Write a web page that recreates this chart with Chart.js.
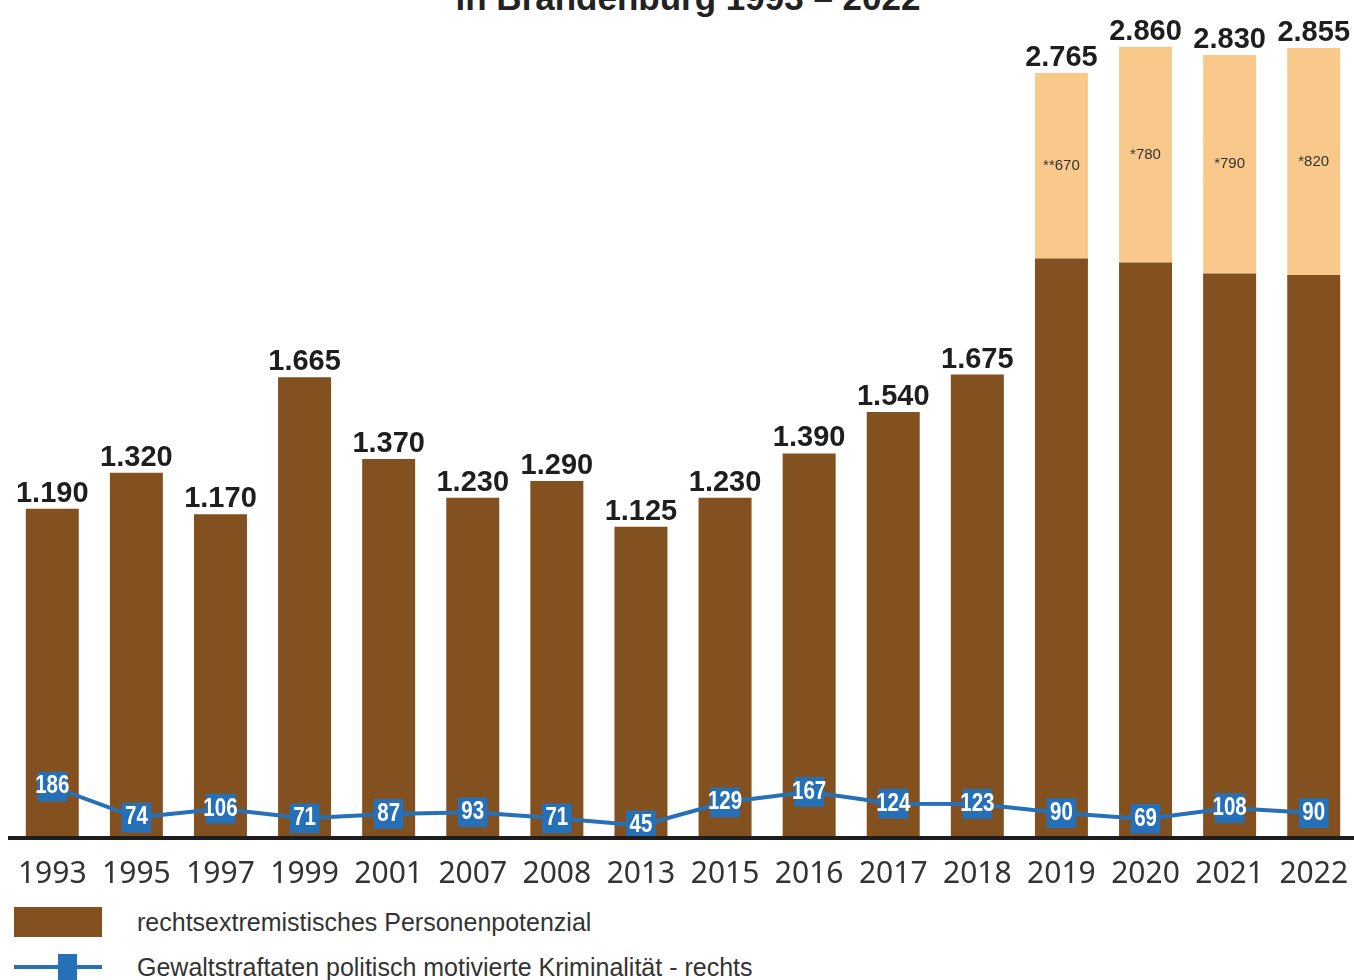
<!DOCTYPE html>
<html lang="de">
<head>
<meta charset="utf-8">
<title>Rechtsextremismus in Brandenburg 1993 – 2022</title>
<script src="https://cdn.jsdelivr.net/npm/chart.js@4.4.1/dist/chart.umd.min.js"></script>
<style>
  html, body {
    margin: 0;
    padding: 0;
    background: #fff;
    width: 1354px;
    height: 980px;
    overflow: hidden;
    position: relative;
    font-family: "Liberation Sans", Arial, sans-serif;
  }
  #title {
    position: absolute;
    left: 0;
    width: 1376px;
    top: -20px;
    text-align: center;
    font-weight: bold;
    font-size: 35px;
    line-height: 35px;
    color: #222;
    white-space: nowrap;
  }
  /* etwas breiter als das Fenster, damit die letzte Kategorie bis an den Rand reicht */
  #chartBox {
    position: absolute;
    left: 0;
    top: 0;
    width: 1366px;
    height: 890px;
  }
  .legend-item {
    position: absolute;
    left: 0;
    height: 30px;
    width: 1000px;
  }
  .legend-item .text {
    position: absolute;
    left: 137px;
    top: 0;
    line-height: 30px;
    font-size: 25px;
    color: #333;
    white-space: nowrap;
  }
  .swatch-bar {
    position: absolute;
    left: 14px;
    top: 0;
    width: 88px;
    height: 30px;
  }
  .swatch-line {
    position: absolute;
    left: 14px;
    top: 13px;
    width: 88px;
    height: 4px;
  }
  .swatch-point {
    position: absolute;
    left: 58px;
    top: 2px;
    width: 19px;
    height: 28px;
  }
</style>
</head>
<body>
<div id="title">in Brandenburg 1993 – 2022</div>
<div id="chartBox"><canvas id="extremismChart"></canvas></div>
<div id="legend"></div>

<script>
// Jahre auf der x-Achse
const years = ['1993', '1995', '1997', '1999', '2001', '2007', '2008', '2013',
               '2015', '2016', '2017', '2018', '2019', '2020', '2021', '2022'];

// Personenpotenzial gesamt (Zahl über dem Balken)
const totals = [1190, 1320, 1170, 1665, 1370, 1230, 1290, 1125,
                1230, 1390, 1540, 1675, 2765, 2860, 2830, 2855];

// hellerer Anteil ab 2019 mit Fußnotenzeichen
const extraValues = [null, null, null, null, null, null, null, null,
                     null, null, null, null, 670, 780, 790, 820];
const extraMarks = ['', '', '', '', '', '', '', '',
                    '', '', '', '', '**', '*', '*', '*'];

// Gewaltstraftaten PMK - rechts
const violentCrimes = [186, 74, 106, 71, 87, 93, 71, 45,
                       129, 167, 124, 123, 90, 69, 108, 90];

const brown = '#83501f';
const lightOrange = '#f9c98c';
const blue = '#2670b8';

// dunkler Balkenteil = gesamt minus heller Anteil
const baseValues = totals.map((t, i) => t - (extraValues[i] || 0));

// 1190 -> "1.190"
function formatDE(v) {
    if (v < 1000) return String(v);
    return Math.floor(v / 1000) + '.' + String(v % 1000).padStart(3, '0');
}

// Beschriftungen direkt auf den Canvas zeichnen
const valueLabels = {
    id: 'valueLabels',
    afterDatasetsDraw(chart) {
        const ctx = chart.ctx;
        const xScale = chart.scales.x;
        const yScale = chart.scales.y;
        ctx.save();
        ctx.textAlign = 'center';

        // Gesamtwerte über den Balken
        ctx.font = 'bold 29px "Liberation Sans", Arial, sans-serif';
        ctx.fillStyle = '#1e1e1e';
        ctx.textBaseline = 'alphabetic';
        totals.forEach((v, i) => {
            ctx.fillText(formatDE(v), xScale.getPixelForValue(i), yScale.getPixelForValue(v) - 7);
        });

        // heller Anteil, mittig im Segment
        ctx.font = '15px "Liberation Sans", Arial, sans-serif';
        ctx.fillStyle = '#333';
        ctx.textBaseline = 'middle';
        const extraMeta = chart.getDatasetMeta(1);
        extraMeta.data.forEach((bar, i) => {
            if (extraValues[i] == null) return;
            const mid = (bar.y + bar.base) / 2;
            ctx.fillText(extraMarks[i] + extraValues[i], bar.x, mid);
        });

        // Werte in den Linienpunkten (weiß, schmal)
        ctx.font = 'bold 25px "Liberation Sans", Arial, sans-serif';
        ctx.fillStyle = '#ffffff';
        const lineMeta = chart.getDatasetMeta(2);
        lineMeta.data.forEach((pt, i) => {
            ctx.save();
            ctx.translate(pt.x, pt.y);
            ctx.scale(0.82, 1);
            ctx.fillText(String(violentCrimes[i]), 0, 0);
            ctx.restore();
        });
        ctx.restore();
    }
};

const ctx = document.getElementById('extremismChart').getContext('2d');

const extremismChart = new Chart(ctx, {
    type: 'bar',
    data: {
        labels: years,
        datasets: [{
            label: 'rechtsextremistisches Personenpotenzial',
            data: baseValues,
            backgroundColor: brown,
            stack: 'personen',
            order: 1,
            barPercentage: 0.63,
            categoryPercentage: 1.0
        },
        {
            label: 'davon',
            data: extraValues,
            backgroundColor: lightOrange,
            stack: 'personen',
            order: 1,
            barPercentage: 0.63,
            categoryPercentage: 1.0
        },
        {
            type: 'line',
            label: 'Gewaltstraftaten politisch motivierte Kriminalität - rechts',
            data: violentCrimes,
            borderColor: blue,
            backgroundColor: blue,
            borderWidth: 4,
            pointStyle: 'rect',
            pointRadius: 21,
            pointBorderWidth: 0,
            pointHoverRadius: 21,
            stack: 'straftaten',
            order: 0,
            tension: 0
        }]
    },
    options: {
        responsive: true,
        maintainAspectRatio: false,
        animation: false,
        layout: {
            autoPadding: false,
            padding: { top: 8, left: 9, right: 0, bottom: 0 }
        },
        plugins: {
            legend: { display: false },
            title: { display: false },
            tooltip: { enabled: false }
        },
        scales: {
            x: {
                stacked: true,
                grid: { display: false, drawTicks: false },
                border: { display: true, color: '#1d1d1d', width: 4, z: 1 },
                ticks: {
                    color: '#333',
                    padding: 18,
                    font: { family: '"Noto Sans", sans-serif', size: 30 }
                },
                afterFit: function(scale) { scale.height = 52; }
            },
            y: {
                display: false,
                stacked: true,
                min: 0,
                max: 3000
            }
        }
    },
    plugins: [valueLabels]
});

// Legende aus den Datensätzen (heller Anteil ohne eigenen Eintrag)
const legend = document.getElementById('legend');
[0, 2].forEach((idx, row) => {
    const ds = extremismChart.data.datasets[idx];
    const item = document.createElement('div');
    item.className = 'legend-item';
    item.style.top = (row === 0 ? 907 : 952) + 'px';
    if (ds.type === 'line') {
        const line = document.createElement('div');
        line.className = 'swatch-line';
        line.style.background = ds.borderColor;
        const point = document.createElement('div');
        point.className = 'swatch-point';
        point.style.background = ds.backgroundColor;
        item.appendChild(line);
        item.appendChild(point);
    } else {
        const box = document.createElement('div');
        box.className = 'swatch-bar';
        box.style.background = ds.backgroundColor;
        item.appendChild(box);
    }
    const text = document.createElement('div');
    text.className = 'text';
    text.textContent = ds.label;
    item.appendChild(text);
    legend.appendChild(item);
});
</script>
</body>
</html>
